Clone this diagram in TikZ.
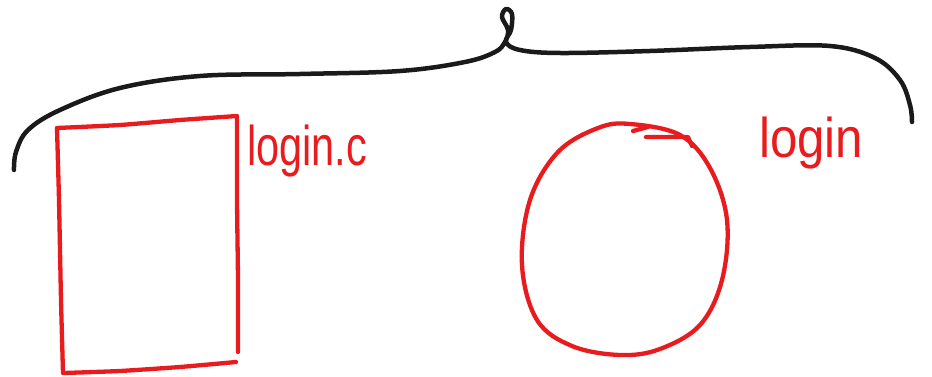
\documentclass[tikz,border=0pt]{standalone}
\usepackage{fontspec}
\setmainfont{Liberation Sans}
\definecolor{pen}{RGB}{232,28,30}
\definecolor{ink}{RGB}{26,26,26}
\begin{document}
\begin{tikzpicture}[x=1pt,y=-1pt,
  redline/.style={draw=pen,line width=4.3pt,line cap=round,line join=round},
  blackline/.style={draw=ink,line width=4.5pt,line cap=round,line join=round},
  lbl/.style={text=pen,inner sep=0pt,anchor=base west}]
\useasboundingbox (0,0) rectangle (932,377);
% brace
\draw[blackline] plot[smooth,tension=0.6] coordinates {(14,170) (16,152) (28,130) (60,110) (120,88) (200,76) (300,74) (400,71) (465,62) (495,52) (505,42) (508,30) (502,17) (506,9) (512,14) (511,30) (506,42) (520,50) (560,53) (650,51) (750,47) (830,46) (875,58) (900,80) (910,105) (912,122)};
% rectangle
\draw[redline] plot[smooth,tension=0.3] coordinates {(57,128) (120,125) (180,120) (237,116)};
\draw[redline] plot[smooth,tension=0.3] coordinates {(237,117) (237,200) (238,280) (238,352)};
\draw[redline] plot[smooth,tension=0.3] coordinates {(236,362) (180,367) (120,371) (64,373)};
\draw[redline] plot[smooth,tension=0.3] coordinates {(63,373) (61,300) (59,200) (57,128)};
% circle
\draw[redline] plot[smooth cycle,tension=0.6] coordinates {(630,124) (680,135) (710,168) (727,220) (722,280) (700,325) (660,349) (620,355) (572,346) (537,320) (522,265) (530,200) (558,152) (598,128)};
\draw[redline] (633,131) -- (648,127);
\draw[redline] (646,137) -- (688,137) -- (692,146);
% labels
\node[lbl,font=\fontsize{56}{60}\selectfont,xscale=0.74] (t1) at (247,165) {login.c};
\node[lbl,font=\fontsize{56}{60}\selectfont,xscale=0.88] (t2) at (759,158) {login};
\end{tikzpicture}
\end{document}
